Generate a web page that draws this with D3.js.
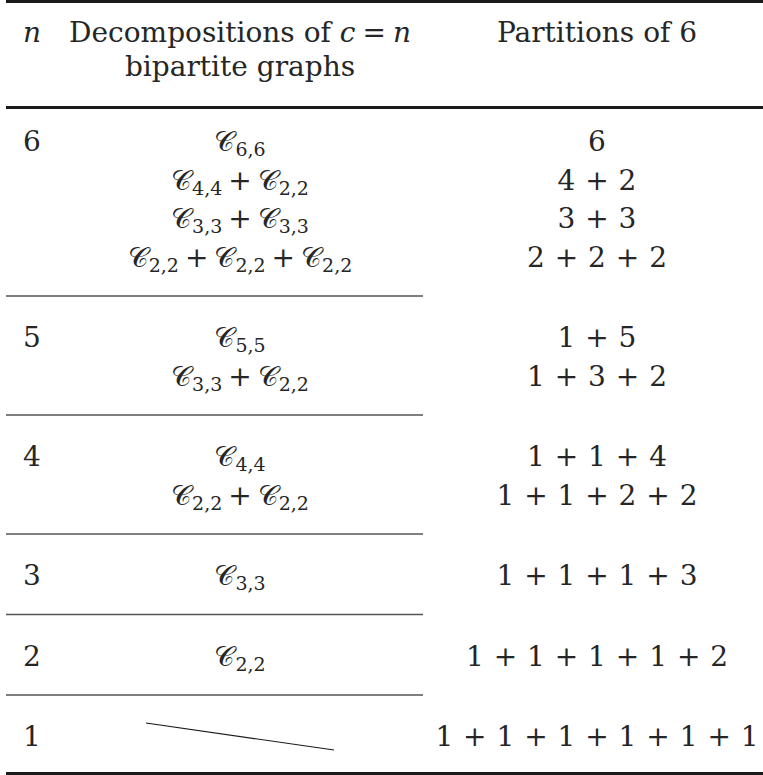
<!DOCTYPE html>
<html><head><meta charset="utf-8">
<script src="https://cdn.jsdelivr.net/npm/d3@7"></script>
<style>body{margin:0;background:#fff} svg{display:block}</style>
</head><body><svg id="c" width="763" height="775"></svg>
<script>
// ---------- data ----------
const nLabels = ["6","5","4","3","2","1"];
// each term is the subscript of a calligraphic C
const decompositions = [
  [["6,6"],["4,4","2,2"],["3,3","3,3"],["2,2","2,2","2,2"]],
  [["5,5"],["3,3","2,2"]],
  [["4,4"],["2,2","2,2"]],
  [["3,3"]],
  [["2,2"]],
  []
];
const partitions = [
  ["6","4 + 2","3 + 3","2 + 2 + 2"],
  ["1 + 5","1 + 3 + 2"],
  ["1 + 1 + 4","1 + 1 + 2 + 2"],
  ["1 + 1 + 1 + 3"],
  ["1 + 1 + 1 + 1 + 2"],
  ["1 + 1 + 1 + 1 + 1 + 1"]
];
const headerN = "n";
const headerDec1 = "Decompositions of";
const headerDec2 = "bipartite graphs";
const headerPart = "Partitions of 6";
const calC = "\u{1D49E}";

// ---------- layout ----------
const W = 763, H = 775;
const FS = 28, SUB = 19, LINE = 38.5;
const FONT = "DejaVu Serif";
const INK = "#262626";
const RULE = "#1a1a1a";
const svg = d3.select("#c");

const colX = d3.scaleOrdinal().domain(["n","dec","part"]).range([23, 240, 597]);

const headerRule = 107.5;
let y = headerRule;
const rows = nLabels.map((lab, i) => {
  const nl = Math.max(decompositions[i].length, partitions[i].length, 1);
  const top = y;
  const b0 = top + (i === 0 ? 43.5 : 51);
  const bottom = b0 + (nl - 1) * LINE + (i === nLabels.length - 1 ? 27.5 : 29.5);
  y = bottom;
  return {i, lab, top, b0, bottom, nl};
});
const lineY = d3.scaleLinear().domain([0, 1]).range([0, LINE]);

// rules
const g = svg.append("g");
[1.5, headerRule, rows[rows.length-1].bottom].forEach(yy => {
  g.append("line").attr("x1", 6).attr("x2", W).attr("y1", yy).attr("y2", yy)
    .attr("stroke", RULE).attr("stroke-width", 3.2);
});
g.selectAll("line.mid").data(rows.slice(0, -1)).join("line").attr("class","mid")
  .attr("x1", 6).attr("x2", 423).attr("y1", d => d.bottom).attr("y2", d => d.bottom)
  .attr("stroke", "#555").attr("stroke-width", 1.3);

function txt(sel) { return sel.append("text").attr("font-family", FONT); }

// header
const hd = svg.append("g").attr("fill", INK).attr("font-size", FS);
txt(hd).attr("x", colX("n")).attr("y", 42).attr("font-style","italic").text(headerN);
const h1 = txt(hd).attr("x", colX("dec")).attr("y", 42).attr("text-anchor","middle");
h1.append("tspan").text(headerDec1 + " ");
h1.append("tspan").attr("font-style","italic").text("c");
h1.append("tspan").attr("dx", 7).text("=");
h1.append("tspan").attr("dx", 7).attr("font-style","italic").text("n");
txt(hd).attr("x", colX("dec")).attr("y", 76).attr("text-anchor","middle").text(headerDec2);
txt(hd).attr("x", colX("part")).attr("y", 42).attr("text-anchor","middle").text(headerPart);

// body
const body = svg.append("g").attr("fill", INK).attr("font-size", FS);
rows.forEach(r => {
  txt(body).attr("x", colX("n")).attr("y", r.b0).text(r.lab);
  partitions[r.i].forEach((p, k) => {
    txt(body).attr("x", colX("part")).attr("y", r.b0 + lineY(k))
      .attr("text-anchor","middle").attr("word-spacing", 1).text(p);
  });
  decompositions[r.i].forEach((terms, k) => {
    const t = txt(body).attr("x", colX("dec")).attr("y", r.b0 + lineY(k))
      .attr("text-anchor","middle");
    terms.forEach((s, j) => {
      if (j > 0) t.append("tspan").attr("dx", 6).attr("dy", -5).text("+");
      t.append("tspan").attr("dx", j > 0 ? 6 : 0).attr("dy", 0).text(calC);
      t.append("tspan").attr("dx", 1).attr("dy", 5).attr("font-size", SUB).text(s);
    });
  });
  if (decompositions[r.i].length === 0) {
    body.append("line")
      .attr("x1", colX("dec") - 94).attr("y1", r.top + 28)
      .attr("x2", colX("dec") + 94).attr("y2", r.top + 55)
      .attr("stroke", RULE).attr("stroke-width", 1.2);
  }
});
</script></body></html>
